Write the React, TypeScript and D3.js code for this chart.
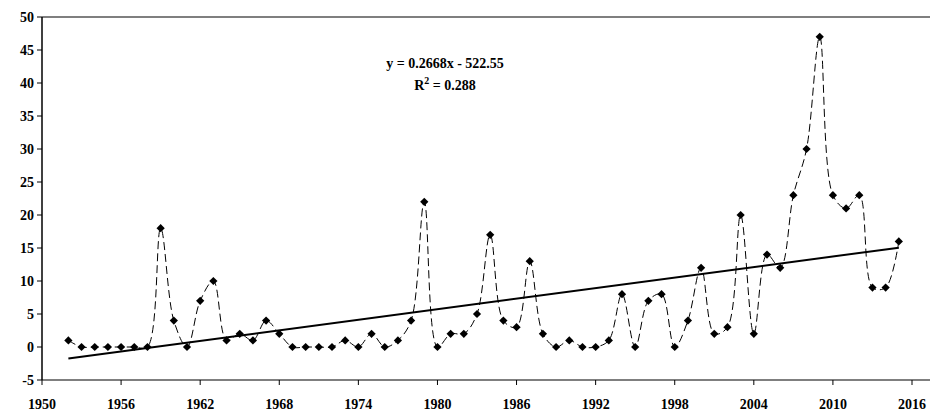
import * as d3 from 'd3';

const years = d3.range(1952, 2016);
const counts = [
    1, 0, 0, 0, 0, 0, 0, 18, 4, 0, 7, 10, 1, 2, 1, 4, 2, 0, 0, 0, 0, 1, 0, 2,
    0, 1, 4, 22, 0, 2, 2, 5, 17, 4, 3, 13, 2, 0, 1, 0, 0, 1, 8, 0, 7, 8, 0, 4,
    12, 2, 3, 20, 2, 14, 12, 23, 30, 47, 23, 21, 23, 9, 9, 16,
];
const xTicks = [1950, 1956, 1962, 1968, 1974, 1980, 1986, 1992, 1998, 2004, 2010, 2016];
const yTicks = [-5, 0, 5, 10, 15, 20, 25, 30, 35, 40, 45, 50];
const slope = 0.2668;
const intercept = -522.55;

const width = 930;
const height = 417;
const margin = { top: 17, right: 18, bottom: 37, left: 42 };

export default function App() {
    const x = d3.scaleLinear().domain([1950, 2016]).range([margin.left, width - margin.right]);
    const y = d3.scaleLinear().domain([-5, 50]).range([height - margin.bottom, margin.top]);
    const points = years.map((yr, i) => [yr, counts[i]] as [number, number]);
    const line = d3
        .line<[number, number]>()
        .x((d) => x(d[0]))
        .y((d) => y(d[1]))
        .curve(d3.curveCatmullRom.alpha(0.5));
    const textStyle = { fontFamily: "'Liberation Serif', serif", fontWeight: 'bold' as const };
    const x0 = years[0];
    const x1 = years[years.length - 1];
    const diamond = d3.symbol(d3.symbolSquare, 34)() ?? '';

    return (
        <svg width={width} height={height} style={{ position: 'absolute', left: 0, top: 0 }}>
            <rect width={width} height={height} fill="#fff" />
            <line x1={margin.left} x2={width} y1={y(50)} y2={y(50)} stroke="#555" strokeWidth={1.5} />
            <line x1={margin.left} x2={width} y1={y(-5)} y2={y(-5)} stroke="#555" strokeWidth={1.5} />
            <line x1={margin.left} x2={margin.left} y1={y(50)} y2={y(-5)} stroke="#000" strokeWidth={1.5} />
            {yTicks.map((t) => (
                <g key={t}>
                    <line x1={margin.left - 5} x2={margin.left} y1={y(t)} y2={y(t)} stroke="#000" />
                    <text x={margin.left - 8} y={y(t)} dy="0.35em" textAnchor="end" style={{ ...textStyle, fontSize: 14 }}>
                        {t}
                    </text>
                </g>
            ))}
            {xTicks.map((t) => (
                <g key={t}>
                    <line x1={x(t)} x2={x(t)} y1={y(-5)} y2={y(-5) + 5} stroke="#000" />
                    <text x={x(t)} y={height - 8} textAnchor="middle" style={{ ...textStyle, fontSize: 14 }}>
                        {t}
                    </text>
                </g>
            ))}
            <path d={line(points) ?? ''} fill="none" stroke="#000" strokeWidth={1} strokeDasharray="8,4" />
            <line
                x1={x(x0)}
                y1={y(slope * x0 + intercept)}
                x2={x(x1)}
                y2={y(slope * x1 + intercept)}
                stroke="#000"
                strokeWidth={2}
            />
            {points.map((d) => (
                <path
                    key={d[0]}
                    transform={`translate(${x(d[0])},${y(d[1])}) rotate(45)`}
                    d={diamond}
                    fill="#000"
                />
            ))}
            <text x={445} y={68} textAnchor="middle" style={{ ...textStyle, fontSize: 14 }}>
                y = 0.2668x - 522.55
            </text>
            <text x={445} y={90} textAnchor="middle" style={{ ...textStyle, fontSize: 14 }}>
                R<tspan dy={-6} fontSize={10}>2</tspan>
                <tspan dy={6}> = 0.288</tspan>
            </text>
        </svg>
    );
}
